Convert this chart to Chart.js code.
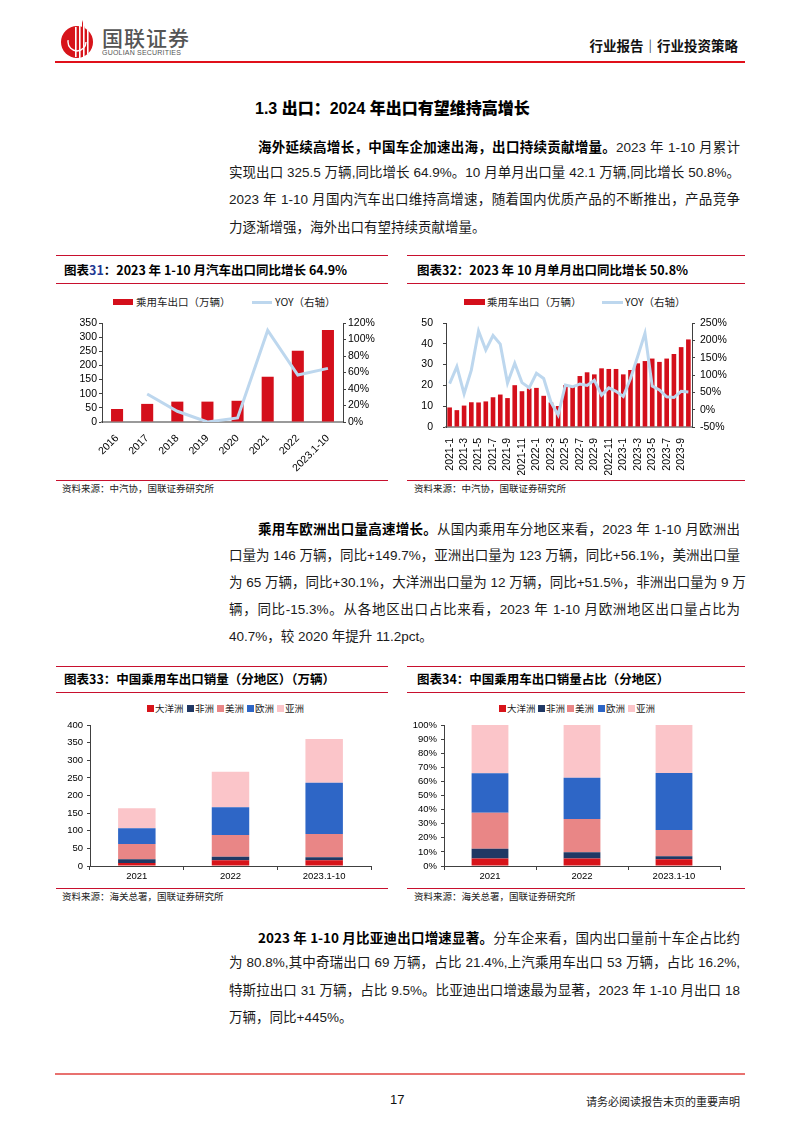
<!DOCTYPE html>
<html>
<head>
<meta charset="utf-8">
<script src="https://cdn.jsdelivr.net/npm/chart.js@4.4.0/dist/chart.umd.min.js"></script>
<style>
  body { margin: 0; width: 794px; height: 1123px; position: relative; background: #fff; overflow: hidden;
         font-family: "Noto Sans CJK SC", sans-serif; color: #111; }
  .abs { position: absolute; }
  .rule { position: absolute; height: 1px; background: #c8102e; }
  .ln { position: absolute; left: 229px; width: 511px; height: 20px; line-height: 20px; font-size: 13.5px;
        text-align: justify; text-align-last: justify; white-space: nowrap;
        font-family: "Liberation Sans Narrow", "Liberation Sans", "Noto Sans CJK SC", sans-serif; color: #1a1a1a; }
  .ln.first { left: 258px; width: 482px; }
  .ln.last { text-align-last: left; }
  .ln b { font-family: "Noto Sans CJK SC", sans-serif; font-weight: 700; color: #000; }
  .ctitle { position: absolute; font-size: 12.5px; font-weight: 700; height: 16px; line-height: 16px; white-space: nowrap; color: #000; }
  .ctitle span { color: #1f3a93; }
  .src { position: absolute; font-size: 9.5px; height: 12px; line-height: 12px; color: #222; white-space: nowrap; }
  .lg { position: absolute; font-size: 10.5px; height: 14px; line-height: 14px; color: #222; white-space: nowrap; }
  .lg.sm { font-size: 9.5px; }
  .sw { position: absolute; }
  canvas { position: absolute; }
</style>
</head>
<body>

<!-- header -->
<svg class="abs" style="left:58px;top:18px" width="40" height="44" viewBox="0 0 40 44">
  <circle cx="19" cy="24" r="16" fill="#d7141a"/>
  <polygon points="24,2 31,22 24,22" fill="#d7141a"/>
  <rect x="17" y="9" width="1.6" height="30" fill="#fff"/>
  <rect x="21" y="7" width="1.6" height="33" fill="#fff"/>
  <rect x="25" y="5" width="1.6" height="34" fill="#fff"/>
  <rect x="29" y="12" width="1.6" height="24" fill="#fff"/>
  <circle cx="19" cy="24" r="9" fill="none" stroke="#fff" stroke-width="1.4" stroke-dasharray="30 40"/>
</svg>
<div class="abs" style="left:102px;top:24px;font-size:21px;line-height:26px;font-weight:500;color:#555;letter-spacing:1px">国联证券</div>
<div class="abs" style="left:102px;top:49px;font-size:7px;line-height:8px;color:#555;font-family:'Liberation Sans',sans-serif;letter-spacing:0.2px">GUOLIAN SECURITIES</div>
<div class="abs" style="right:56px;top:36px;font-size:13.5px;line-height:18px;font-weight:700;color:#111">行业报告｜行业投资策略</div>
<div class="abs" style="left:55px;top:61px;width:690px;height:2px;background:#e0101a"></div>

<!-- section heading -->
<div class="abs" style="left:255px;top:96px;font-size:16px;line-height:22px;font-weight:700;color:#000;font-family:'Liberation Sans Narrow','Liberation Sans','Noto Sans CJK SC',sans-serif">1.3 <b style="font-family:'Noto Sans CJK SC'">出口：</b>2024 <b style="font-family:'Noto Sans CJK SC'">年出口有望维持高增长</b></div>

<!-- paragraph 1 -->
<div class="ln first" style="top:136px"><b>海外延续高增长，中国车企加速出海，出口持续贡献增量。</b>2023 年 1-10 月累计</div>
<div class="ln" style="top:163px">实现出口 325.5 万辆,同比增长 64.9%。10 月单月出口量 42.1 万辆,同比增长 50.8%。</div>
<div class="ln" style="top:190px">2023 年 1-10 月国内汽车出口维持高增速，随着国内优质产品的不断推出，产品竞争</div>
<div class="ln last" style="top:218px">力逐渐增强，海外出口有望持续贡献增量。</div>

<!-- chart block 31 / 32 frames -->
<div class="rule" style="left:56px;top:255px;width:332px"></div>
<div class="rule" style="left:56px;top:283px;width:332px"></div>
<div class="rule" style="left:56px;top:480px;width:332px"></div>
<div class="rule" style="left:407px;top:255px;width:338px"></div>
<div class="rule" style="left:407px;top:283px;width:338px"></div>
<div class="rule" style="left:407px;top:480px;width:338px"></div>

<div class="ctitle" style="left:64px;top:262px">图表<span>31</span>：2023 年 1-10 月汽车出口同比增长 64.9%</div>
<div class="ctitle" style="left:417px;top:262px">图表32：2023 年 10 月单月出口同比增长 50.8%</div>

<div class="sw" style="left:113px;top:299px;width:20px;height:6px;background:#d40f1b"></div>
<div class="lg" style="left:136px;top:295px">乘用车出口（万辆）</div>
<div class="sw" style="left:252px;top:301px;width:20px;height:3px;background:#bdd7ee"></div>
<div class="lg" style="left:275px;top:295px">YOY（右轴）</div>

<div class="sw" style="left:464px;top:299px;width:21px;height:6px;background:#d40f1b"></div>
<div class="lg" style="left:487px;top:295px">乘用车出口（万辆）</div>
<div class="sw" style="left:602px;top:301px;width:21px;height:3px;background:#bdd7ee"></div>
<div class="lg" style="left:625px;top:295px">YOY（右轴）</div>

<canvas id="c31" width="335" height="175" style="left:55px;top:300px;width:335px;height:175px"></canvas>
<canvas id="c32" width="335" height="175" style="left:410px;top:300px;width:335px;height:175px"></canvas>

<div class="src" style="left:62px;top:482px">资料来源：中汽协，国联证券研究所</div>
<div class="src" style="left:414px;top:482px">资料来源：中汽协，国联证券研究所</div>

<!-- paragraph 2 -->
<div class="ln first" style="top:518px"><b>乘用车欧洲出口量高速增长。</b>从国内乘用车分地区来看，2023 年 1-10 月欧洲出</div>
<div class="ln" style="top:546px">口量为 146 万辆，同比+149.7%，亚洲出口量为 123 万辆，同比+56.1%，美洲出口量</div>
<div class="ln" style="top:573px">为 65 万辆，同比+30.1%，大洋洲出口量为 12 万辆，同比+51.5%，非洲出口量为 9 万</div>
<div class="ln" style="top:600px">辆，同比-15.3%。从各地区出口占比来看，2023 年 1-10 月欧洲地区出口量占比为</div>
<div class="ln last" style="top:627px">40.7%，较 2020 年提升 11.2pct。</div>

<!-- chart block 33 / 34 frames -->
<div class="rule" style="left:56px;top:666px;width:332px"></div>
<div class="rule" style="left:56px;top:692px;width:332px"></div>
<div class="rule" style="left:56px;top:888px;width:332px"></div>
<div class="rule" style="left:407px;top:666px;width:338px"></div>
<div class="rule" style="left:407px;top:692px;width:338px"></div>
<div class="rule" style="left:407px;top:888px;width:338px"></div>

<div class="ctitle" style="left:64px;top:671px">图表33：中国乘用车出口销量（分地区）（万辆）</div>
<div class="ctitle" style="left:417px;top:671px">图表34：中国乘用车出口销量占比（分地区）</div>

<div id="lg33"></div>
<div id="lg34"></div>

<canvas id="c33" width="335" height="176" style="left:55px;top:712px;width:335px;height:176px"></canvas>
<canvas id="c34" width="335" height="176" style="left:410px;top:712px;width:335px;height:176px"></canvas>

<div class="src" style="left:62px;top:890px">资料来源：海关总署，国联证券研究所</div>
<div class="src" style="left:414px;top:890px">资料来源：海关总署，国联证券研究所</div>

<!-- paragraph 3 -->
<div class="ln first" style="top:927px"><b>2023 年 1-10 月比亚迪出口增速显著。</b>分车企来看，国内出口量前十车企占比约</div>
<div class="ln" style="top:953px">为 80.8%,其中奇瑞出口 69 万辆，占比 21.4%,上汽乘用车出口 53 万辆，占比 16.2%,</div>
<div class="ln" style="top:981px">特斯拉出口 31 万辆，占比 9.5%。比亚迪出口增速最为显著，2023 年 1-10 月出口 18</div>
<div class="ln last" style="top:1008px">万辆，同比+445%。</div>

<!-- footer -->
<div class="abs" style="left:55px;top:1073px;width:690px;height:2px;background:#e8716f"></div>
<div class="abs" style="left:390px;top:1092px;font-size:13px;line-height:16px;font-family:'Liberation Sans',sans-serif;color:#111">17</div>
<div class="abs" style="right:54px;top:1093px;font-size:11px;line-height:16px;color:#222">请务必阅读报告末页的重要声明</div>

<script>
/* ---------- data ---------- */
const years31 = ["2016", "2017", "2018", "2019", "2020", "2021", "2022", "2023.1-10"];
const exports31 = [46, 64, 72, 72, 75, 160, 252, 325.5];
const yoy31 = [null, 34, 13, 0, 5, 111, 57, 65];

const months32 = [
  "2021-1", "2021-2", "2021-3", "2021-4", "2021-5", "2021-6", "2021-7", "2021-8", "2021-9", "2021-10", "2021-11", "2021-12",
  "2022-1", "2022-2", "2022-3", "2022-4", "2022-5", "2022-6", "2022-7", "2022-8", "2022-9", "2022-10", "2022-11", "2022-12",
  "2023-1", "2023-2", "2023-3", "2023-4", "2023-5", "2023-6", "2023-7", "2023-8", "2023-9", "2023-10",
];
const exports32 = [
  9.4, 8.1, 10.3, 11.9, 11.8, 12.3, 14.3, 15.6, 13.9, 20.1, 17.2, 18.5,
  18.8, 15.0, 11.8, 10.1, 20.1, 19.3, 24.5, 26.3, 25.3, 28.2, 27.9, 27.9,
  25.3, 27.4, 30.6, 31.7, 32.9, 31.3, 32.9, 35.1, 38.4, 42.1,
];
const yoy32 = [
  75, 124, 46, 114, 227, 172, 214, 189, 77, 134, 78, 63,
  105, 90, 22, -15, 71, 66, 74, 70, 85, 42, 63, 53,
  38, 90, 154, 220, 68, 57, 37, 35, 53, 51,
];

const regions = ["大洋洲", "非洲", "美洲", "欧洲", "亚洲"];
const regionColors = ["#d7141a", "#203864", "#e98686", "#2e66c6", "#fbc5c9"];
const years33 = ["2021", "2022", "2023.1-10"];
// volume by region (万辆)
const oceania33 = [8.5, 16, 16.5];
const africa33 = [10.5, 10.5, 8];
const america33 = [43.5, 61.5, 66];
const europe33 = [44.5, 79, 146];
const asia33 = [57, 100.5, 124];
// share by region (%)
const oceania34 = [5.4, 5.4, 4.7];
const africa34 = [6.9, 4.3, 2.2];
const america34 = [25.5, 23.6, 18.6];
const europe34 = [27.9, 29.3, 40.5];
const asia34 = [34.3, 37.4, 34.0];

/* ---------- shared styles ---------- */
const BAR_RED = "#d40f1b";
const LINE_BLUE = "#bdd7ee";
const AXIS = "#404040";

Chart.defaults.font.family = '"Liberation Sans", "Noto Sans CJK SC", sans-serif';
Chart.defaults.color = "#000";
Chart.defaults.animation = false;

const noPlugins = { legend: { display: false }, tooltip: { enabled: false } };

function sideAxis(opts) {
  return {
    position: opts.position,
    min: opts.min,
    max: opts.max,
    ticks: {
      stepSize: opts.step,
      autoSkip: false,
      padding: opts.pad,
      font: { size: opts.size || 10.5 },
      color: "#000",
      callback: opts.fmt || ((v) => v),
    },
    grid: { display: true, drawOnChartArea: false, drawTicks: true, tickLength: 3, color: AXIS },
    border: { display: true, color: AXIS, width: 1 },
    afterFit: (s) => { s.width = opts.width; },
  };
}

/* ---------- chart 31 ---------- */
new Chart(document.getElementById("c31"), {
  type: "bar",
  data: {
    labels: years31,
    datasets: [
      {
        type: "line",
        label: "YOY（右轴）",
        data: yoy31,
        yAxisID: "y1",
        borderColor: LINE_BLUE,
        borderWidth: 3,
        pointRadius: 0,
        tension: 0,
        order: 0,
      },
      {
        label: "乘用车出口（万辆）",
        data: exports31,
        yAxisID: "y",
        backgroundColor: BAR_RED,
        barPercentage: 0.8,
        categoryPercentage: 0.5,
        order: 1,
      },
    ],
  },
  options: {
    responsive: false,
    layout: { padding: { top: 23, left: 0, right: 0, bottom: 0 } },
    plugins: noPlugins,
    scales: {
      x: {
        grid: { display: false },
        border: { display: true, color: "#9a9a9a", width: 2 },
        ticks: { minRotation: 45, maxRotation: 45, autoSkip: false, padding: 2, font: { size: 10.5 }, color: "#000" },
        afterFit: (s) => { s.height = 53; },
      },
      y: sideAxis({ position: "left", min: 0, max: 350, step: 50, pad: 2, width: 47 }),
      y1: sideAxis({ position: "right", min: 0, max: 120, step: 20, pad: 2, width: 47, fmt: (v) => v + "%" }),
    },
  },
});

/* ---------- chart 32 ---------- */
new Chart(document.getElementById("c32"), {
  type: "bar",
  data: {
    labels: months32,
    datasets: [
      {
        type: "line",
        label: "YOY（右轴）",
        data: yoy32,
        yAxisID: "y1",
        borderColor: LINE_BLUE,
        borderWidth: 3,
        pointRadius: 0,
        tension: 0,
        order: 0,
      },
      {
        label: "乘用车出口（万辆）",
        data: exports32,
        yAxisID: "y",
        backgroundColor: BAR_RED,
        barPercentage: 0.8,
        categoryPercentage: 0.8,
        order: 1,
      },
    ],
  },
  options: {
    responsive: false,
    layout: { padding: { top: 23, left: 0, right: 0, bottom: 0 } },
    plugins: noPlugins,
    scales: {
      x: {
        grid: { display: false },
        border: { display: true, color: "#9a9a9a", width: 2 },
        ticks: {
          minRotation: 90,
          maxRotation: 90,
          autoSkip: false,
          padding: 3,
          font: { size: 10.5 },
          color: "#000",
          callback: (v, i) => (i % 2 === 0 ? months32[i] : ""),
        },
        afterFit: (s) => { s.height = 48; },
      },
      y: sideAxis({ position: "left", min: 0, max: 50, step: 10, pad: 10, width: 36 }),
      y1: sideAxis({ position: "right", min: -50, max: 250, step: 50, pad: 5, width: 53, fmt: (v) => v + "%" }),
    },
  },
});

/* ---------- charts 33 / 34 (stacked by region) ---------- */
function stackedDatasets(series) {
  return series.map((data, i) => ({
    label: regions[i],
    data,
    backgroundColor: regionColors[i],
    barPercentage: 0.8,
    categoryPercentage: 0.5,
  }));
}

function stackedOptions(max, step, fmt, padRight) {
  return {
    responsive: false,
    layout: { padding: { top: 13, left: 0, right: padRight, bottom: 0 } },
    plugins: noPlugins,
    scales: {
      x: {
        stacked: true,
        grid: { display: true, drawOnChartArea: false, offset: true, tickLength: 4, color: AXIS },
        border: { display: true, color: AXIS },
        ticks: { padding: 1, font: { size: 9.5 }, color: "#000" },
        afterFit: (s) => { s.height = 22; },
      },
      y: {
        stacked: true,
        min: 0,
        max,
        ticks: { stepSize: step, autoSkip: false, padding: 4, font: { size: 9.5 }, color: "#000", callback: fmt },
        grid: { display: true, drawOnChartArea: false, tickLength: 3, color: AXIS },
        border: { display: true, color: AXIS },
        afterFit: (s) => { s.width = fmt === undefined ? 35 : 34; },
      },
    },
  };
}

new Chart(document.getElementById("c33"), {
  type: "bar",
  data: { labels: years33, datasets: stackedDatasets([oceania33, africa33, america33, europe33, asia33]) },
  options: stackedOptions(400, 50, undefined, 19),
});

new Chart(document.getElementById("c34"), {
  type: "bar",
  data: { labels: years33, datasets: stackedDatasets([oceania34, africa34, america34, europe34, asia34]) },
  options: stackedOptions(100, 10, (v) => v + "%", 25),
});

/* ---------- small HTML legends for the region charts ---------- */
function regionLegend(el, xs, y) {
  regions.forEach((name, i) => {
    const sw = document.createElement("div");
    sw.className = "sw";
    sw.style.cssText = `left:${xs[i]}px;top:${y - 3.5}px;width:7px;height:7px;background:${regionColors[i]}`;
    const tx = document.createElement("div");
    tx.className = "lg sm";
    tx.style.cssText = `left:${xs[i] + 8}px;top:${y - 7}px`;
    tx.textContent = name;
    el.appendChild(sw);
    el.appendChild(tx);
  });
}
regionLegend(document.getElementById("lg33"), [147, 187, 217, 247, 277], 708);
regionLegend(document.getElementById("lg34"), [499, 538, 567, 598, 628], 708);
</script>
</body>
</html>
